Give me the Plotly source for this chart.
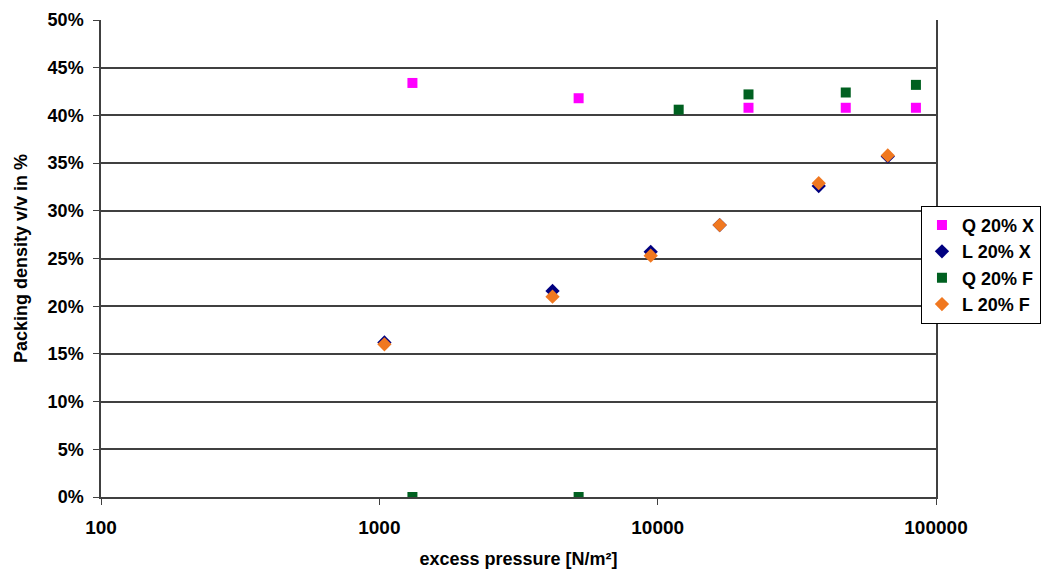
import plotly.graph_objects as go

# Data
qx_pressure = [1315, 5200, 21200, 47400, 84700]
qx_density = [0.434, 0.418, 0.408, 0.408, 0.408]

lx_pressure = [1043, 4190, 9440, 16700, 37900, 67100]
lx_density = [0.162, 0.216, 0.257, 0.285, 0.326, 0.357]

qf_pressure = [1315, 5200, 11900, 21200, 47400, 84700]
qf_density = [0.0, 0.0, 0.406, 0.422, 0.424, 0.432]

lf_pressure = [1043, 4190, 9440, 16700, 37900, 67100]
lf_density = [0.160, 0.210, 0.253, 0.285, 0.329, 0.358]

x_ticks = [100, 1000, 10000, 100000]
x_ticklabels = ["100", "1000", "10000", "100000"]

font_family = "Liberation Sans"

fig = go.Figure()
fig.add_trace(go.Scatter(x=qx_pressure, y=qx_density, mode="markers", name="<b>Q 20% X</b>",
                         marker=dict(symbol="square", size=10, color="#FF00FF")))
fig.add_trace(go.Scatter(x=lx_pressure, y=lx_density, mode="markers", name="<b>L 20% X</b>",
                         marker=dict(symbol="diamond", size=11, color="#000080")))
fig.add_trace(go.Scatter(x=qf_pressure, y=qf_density, mode="markers", name="<b>Q 20% F</b>",
                         marker=dict(symbol="square", size=10, color="#006020")))
fig.add_trace(go.Scatter(x=lf_pressure, y=lf_density, mode="markers", name="<b>L 20% F</b>",
                         marker=dict(symbol="diamond", size=11, color="#F07820")))

fig.update_layout(
    width=1044, height=572,
    margin=dict(l=101, r=108, t=20, b=75, autoexpand=False),
    paper_bgcolor="white", plot_bgcolor="white",
    font=dict(family=font_family, size=16, color="black", weight="bold"),
    showlegend=True,
    legend=dict(x=0.982, xanchor="left", y=0.487, yanchor="middle",
                bordercolor="black", borderwidth=1, bgcolor="white",
                font=dict(size=18, family=font_family, weight="bold"),
                tracegroupgap=0, itemwidth=30),
)

fig.update_xaxes(
    type="log", range=[2, 5],
    tickvals=x_ticks, ticktext=["<b>%s</b>" % t for t in x_ticklabels],
    showgrid=False, showline=True, linecolor="#404040", linewidth=1.5,
    ticks="outside", ticklen=6, tickcolor="#404040", ticklabelstandoff=6,
    tickfont=dict(size=19, family=font_family, weight="bold"), zeroline=False,
    title=dict(text="<b>excess pressure [N/m²]</b>",
               font=dict(size=18, family=font_family, weight="bold"), standoff=16),
)
fig.update_yaxes(
    range=[0, 0.5], dtick=0.05, tickformat=".0%",
    showgrid=True, gridcolor="#404040", gridwidth=1.5,
    showline=True, linecolor="#404040", linewidth=1.5, mirror=True,
    ticks="outside", ticklen=6, tickcolor="#404040", ticklabelstandoff=6,
    tickfont=dict(size=18, family=font_family, weight="bold"),
    zeroline=False,
    title=dict(text="<b>Packing density v/v in %</b>",
               font=dict(size=18, family=font_family, weight="bold"), standoff=15),
)

fig.write_html("out.html")
